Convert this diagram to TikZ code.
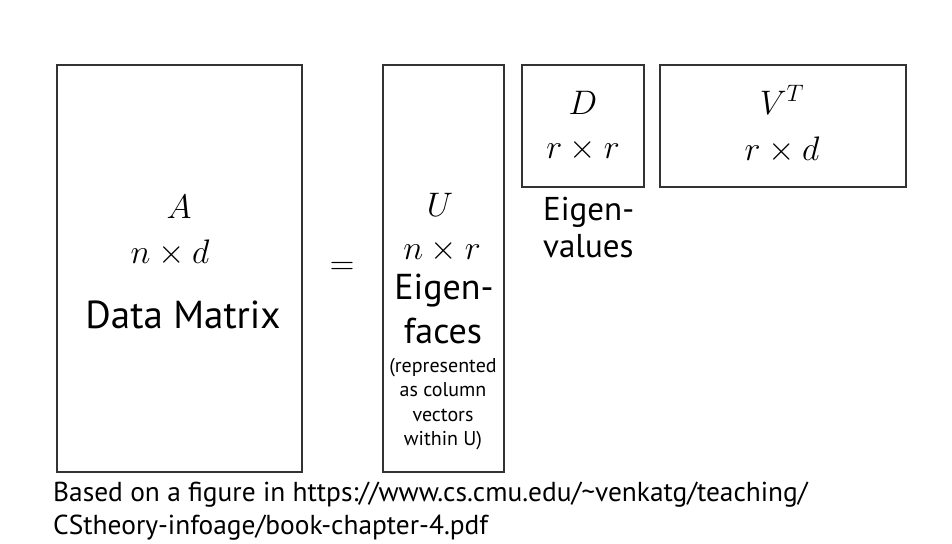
\RequirePackage{fix-cm}
\documentclass[tikz,border=0pt]{standalone}
\usepackage{fontspec}
\setmainfont{PT Sans}
\begin{document}
\begin{tikzpicture}[x=1pt,y=-1pt,
  matbox/.style={draw=black!80,line width=1.8pt,inner sep=0pt,anchor=north west},
  mathlbl/.style={inner sep=0pt,font=\fontsize{34}{36}\selectfont},
  biglbl/.style={inner sep=0pt,font=\fontsize{39}{41}\selectfont},
  midlbl/.style={inner sep=0pt,font=\fontsize{36}{38}\selectfont},
  vallbl/.style={inner sep=0pt,font=\fontsize{33}{35}\selectfont,anchor=west},
  smalllbl/.style={inner sep=0pt,font=\fontsize{20}{24.5}\selectfont,align=center},
  notelbl/.style={inner sep=0pt,font=\fontsize{27.4}{33}\selectfont,align=left,anchor=west}]
\useasboundingbox (0,0) rectangle (952,543);
% matrix boxes
\node[matbox,minimum width=245pt,minimum height=407pt] (A) at (56,64) {};
\node[matbox,minimum width=121pt,minimum height=407pt] (U) at (382,64) {};
\node[matbox,minimum width=122pt,minimum height=122pt] (D) at (521,64) {};
\node[matbox,minimum width=246pt,minimum height=122pt] (V) at (659,64) {};
% data matrix A
\node[mathlbl] (Aname) at (179,207) {$A$};
\node[mathlbl] (Adim) at (170,253) {$n\times d$};
\node[biglbl] (Atxt) at (183,315) {Data Matrix};
% equals sign
\node[mathlbl] (eq) at (342,268) {$=$};
% eigenfaces U
\node[mathlbl] (Uname) at (440,205) {$U$};
\node[mathlbl] (Udim) at (442,251) {$n\times r$};
\node[midlbl] (Ut1) at (444,291) {Eigen-};
\node[midlbl] (Ut2) at (443,331) {faces};
\node[smalllbl] (Ut3) at (443,404) {(represented\\as column\\vectors\\within U)};
% eigenvalues D
\node[mathlbl] (Dname) at (583,103) {$D$};
\node[mathlbl] (Ddim) at (583,150) {$r\times r$};
\node[vallbl] (Dt1) at (543,212) {Eigen-};
\node[vallbl] (Dt2) at (543,246) {values};
% V transpose
\node[mathlbl] (Vname) at (782,100) {$V^T$};
\node[mathlbl] (Vdim) at (782,150) {$r\times d$};
% source note
\node[notelbl] (src1) at (53,495) {Based on a figure in https://www.cs.cmu.edu/\textasciitilde venkatg/teaching/};
\node[notelbl] (src2) at (53,528) {CStheory-infoage/book-chapter-4.pdf};
\end{tikzpicture}
\end{document}
